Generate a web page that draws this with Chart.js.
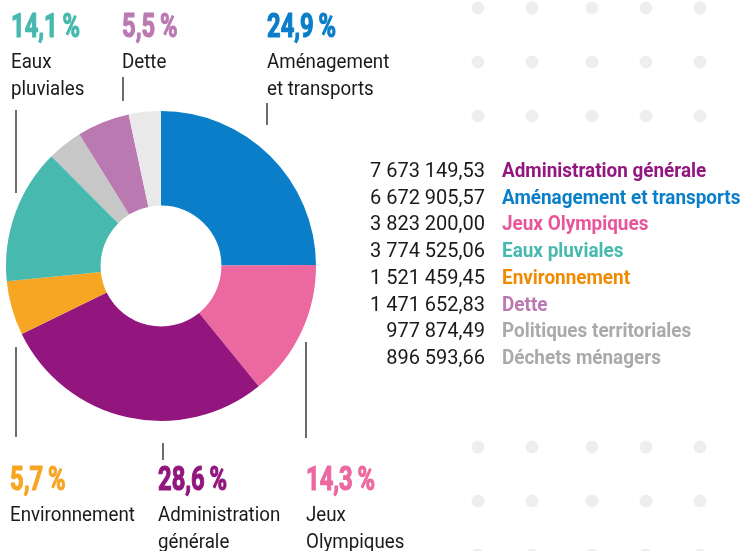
<!DOCTYPE html>
<html lang="fr">
<head>
<meta charset="utf-8">
<title>Répartition des dépenses</title>
<script src="https://cdn.jsdelivr.net/npm/chart.js@4.4.0/dist/chart.umd.min.js"></script>
<style>
  html, body { margin: 0; padding: 0; background: #fff; }
  #wrap { position: relative; width: 742px; height: 551px; }
</style>
</head>
<body>
<div id="wrap"><canvas id="chart" width="742" height="551"></canvas></div>
<script>
// Données (ordre de l'anneau, sens horaire depuis midi)
var categories = ["Aménagement et transports", "Jeux Olympiques", "Administration générale", "Environnement",
                  "Eaux pluviales", "Politiques territoriales", "Dette", "Déchets ménagers"];
var montants = [6672905.57, 3823200.00, 7673149.53, 1521459.45, 3774525.06, 977874.49, 1471652.83, 896593.66];
var couleurs = ["#0a7ec8", "#ec68a0", "#92167d", "#f6a623", "#47b9ae", "#c6c7c6", "#bb79b2", "#e9e9e9"];
var couleursTexte = ["#0a7ec8", "#e9559a", "#92167d", "#f08a00", "#47b9ae", "#aaaaaa", "#bb79b2", "#aaaaaa"];
// libellés autour de l'anneau (null = pas d'étiquette)
var etiquettes = [["Aménagement", "et transports"], ["Jeux", "Olympiques"], ["Administration", "générale"],
                  ["Environnement"], ["Eaux", "pluviales"], null, ["Dette"], null];

// placement des étiquettes : x, ligne de base du %, trait (x, y1, y2)
var placement = {
  0: { x: 267, y: 37, trait: [267, 103, 125] },
  1: { x: 306, y: 490, trait: [306, 342, 438] },
  2: { x: 158, y: 490, trait: [163, 443, 460] },
  3: { x: 10, y: 490, trait: [16, 347, 437] },
  4: { x: 11, y: 37, trait: [16, 110, 193] },
  6: { x: 122, y: 37, trait: [123, 77, 101] }
};

var total = montants.reduce(function(a, b) { return a + b; }, 0);

function formatMontant(v) {
  var p = v.toFixed(2).split('.');
  return p[0].replace(/\B(?=(\d{3})+(?!\d))/g, ' ') + ',' + p[1];
}

function formatPct(v) {
  return (v / total * 100).toFixed(1).replace('.', ',') + '\u2009%';
}

// texte avec compression horizontale (police étroite)
function texte(ctx, str, x, y, font, color, sx, align, epais) {
  ctx.save();
  ctx.translate(x, y);
  ctx.scale(sx, 1);
  ctx.font = font;
  ctx.fillStyle = color;
  ctx.textAlign = align || 'left';
  ctx.textBaseline = 'alphabetic';
  ctx.fillText(str, 0, 0);
  if (epais) {
    // un peu plus gras
    ctx.strokeStyle = color;
    ctx.lineWidth = epais;
    ctx.lineJoin = 'round';
    ctx.strokeText(str, 0, 0);
  }
  ctx.restore();
}

var decor = {
  id: 'decor',
  beforeDraw: function(chart) {
    var ctx = chart.ctx;
    var xs = [478, 532, 592, 646, 700];
    var ys = [8, 62, 116, 447, 501, 555];
    ctx.save();
    ctx.fillStyle = '#eeeeee';
    ys.forEach(function(y) {
      xs.forEach(function(x) {
        ctx.beginPath();
        ctx.arc(x, y, 6.5, 0, Math.PI * 2);
        ctx.fill();
      });
    });
    ctx.restore();
  },
  afterDraw: function(chart) {
    var ctx = chart.ctx;

    // étiquettes autour de l'anneau
    Object.keys(placement).forEach(function(k) {
      var i = +k, p = placement[k];
      texte(ctx, formatPct(montants[i]), p.x, p.y, 'bold 33px Roboto', couleurs[i], 0.72, 'left', 1.2);
      var lignes = etiquettes[i];
      for (var j = 0; j < lignes.length; j++) {
        texte(ctx, lignes[j], p.x, p.y + 31 + j * 27, '19.5px Roboto', '#1a1a1a', 0.96);
      }
      ctx.save();
      ctx.strokeStyle = '#3a3a3a';
      ctx.lineWidth = 1.5;
      ctx.beginPath();
      ctx.moveTo(p.trait[0], p.trait[1]);
      ctx.lineTo(p.trait[0], p.trait[2]);
      ctx.stroke();
      ctx.restore();
    });

    // légende à droite, triée par montant
    var ordre = montants.map(function(v, i) { return i; }).sort(function(a, b) { return montants[b] - montants[a]; });
    ordre.forEach(function(i, r) {
      var y = 177 + r * 26.7;
      texte(ctx, formatMontant(montants[i]), 485, y, '20px Roboto', '#1a1a1a', 1.0, 'right');
      texte(ctx, categories[i], 502, y, 'bold 20px Roboto', couleursTexte[i], 0.945);
    });
  }
};

var ctx = document.getElementById('chart').getContext('2d');
new Chart(ctx, {
  type: 'doughnut',
  data: {
    labels: categories,
    datasets: [{ data: montants, backgroundColor: couleurs, borderWidth: 0 }]
  },
  options: {
    responsive: false,
    animation: false,
    cutout: '39%',
    layout: { padding: { left: 6, right: 426, top: 111, bottom: 130 } },
    plugins: { legend: { display: false }, tooltip: { enabled: false } }
  },
  plugins: [decor]
});
</script>
</body>
</html>
